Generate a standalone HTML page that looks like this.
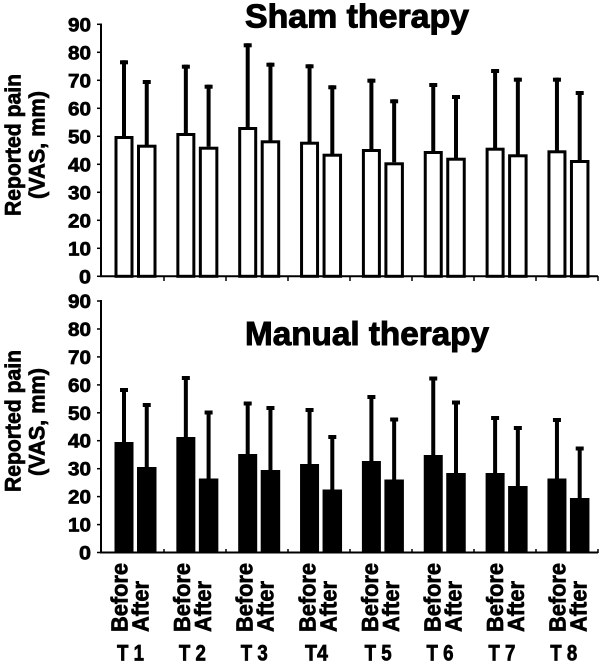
<!DOCTYPE html>
<html><head><meta charset="utf-8"><style>
html,body{margin:0;padding:0;background:#fff;}
svg{display:block;}
text{font-family:"Liberation Sans",Arial,sans-serif;font-weight:bold;fill:#000;stroke:#000;stroke-width:0.7px;}
.ttl{stroke-width:1px;}
</style></head><body>
<svg width="600" height="664" viewBox="0 0 600 664" xmlns="http://www.w3.org/2000/svg">
<!-- Titles -->
<text class="ttl" x="245" y="27.5" font-size="33.5" textLength="224" lengthAdjust="spacingAndGlyphs">Sham therapy</text>
<text class="ttl" x="245" y="345" font-size="33.5" textLength="244" lengthAdjust="spacingAndGlyphs">Manual therapy</text>

<!-- Y axis labels -->
<text transform="translate(20.5,145) rotate(-90)" text-anchor="middle" font-size="22.5" textLength="142" lengthAdjust="spacingAndGlyphs">Reported pain</text>
<text transform="translate(44.5,145) rotate(-90)" text-anchor="middle" font-size="22.5" textLength="108" lengthAdjust="spacingAndGlyphs">(VAS, mm)</text>
<text transform="translate(20.5,421) rotate(-90)" text-anchor="middle" font-size="22.5" textLength="142" lengthAdjust="spacingAndGlyphs">Reported pain</text>
<text transform="translate(44.5,422) rotate(-90)" text-anchor="middle" font-size="22.5" textLength="108" lengthAdjust="spacingAndGlyphs">(VAS, mm)</text>

<!-- Top y tick labels -->
<g font-size="19.5" text-anchor="end">
<text x="91" y="283.3" textLength="12" lengthAdjust="spacingAndGlyphs">0</text>
<text x="91" y="255.3" textLength="23" lengthAdjust="spacingAndGlyphs">10</text>
<text x="91" y="227.3" textLength="23" lengthAdjust="spacingAndGlyphs">20</text>
<text x="91" y="199.3" textLength="23" lengthAdjust="spacingAndGlyphs">30</text>
<text x="91" y="171.3" textLength="23" lengthAdjust="spacingAndGlyphs">40</text>
<text x="91" y="143.3" textLength="23" lengthAdjust="spacingAndGlyphs">50</text>
<text x="91" y="115.3" textLength="23" lengthAdjust="spacingAndGlyphs">60</text>
<text x="91" y="87.3" textLength="23" lengthAdjust="spacingAndGlyphs">70</text>
<text x="91" y="59.3" textLength="23" lengthAdjust="spacingAndGlyphs">80</text>
<text x="91" y="31.3" textLength="23" lengthAdjust="spacingAndGlyphs">90</text>
</g>
<!-- Bottom y tick labels -->
<g font-size="19.5" text-anchor="end">
<text x="91" y="559.5" textLength="12" lengthAdjust="spacingAndGlyphs">0</text>
<text x="91" y="531.6" textLength="23" lengthAdjust="spacingAndGlyphs">10</text>
<text x="91" y="503.6" textLength="23" lengthAdjust="spacingAndGlyphs">20</text>
<text x="91" y="475.7" textLength="23" lengthAdjust="spacingAndGlyphs">30</text>
<text x="91" y="447.7" textLength="23" lengthAdjust="spacingAndGlyphs">40</text>
<text x="91" y="419.8" textLength="23" lengthAdjust="spacingAndGlyphs">50</text>
<text x="91" y="391.9" textLength="23" lengthAdjust="spacingAndGlyphs">60</text>
<text x="91" y="363.9" textLength="23" lengthAdjust="spacingAndGlyphs">70</text>
<text x="91" y="336" textLength="23" lengthAdjust="spacingAndGlyphs">80</text>
<text x="91" y="308" textLength="23" lengthAdjust="spacingAndGlyphs">90</text>
</g>

<!-- Axes -->
<g stroke="#000" stroke-width="2" fill="none">
<line x1="101" y1="23.5" x2="101" y2="277"/>
<line x1="100" y1="276.3" x2="598" y2="276.3"/>
<line x1="101" y1="300" x2="101" y2="553.5"/>
<line x1="100" y1="552.5" x2="598" y2="552.5"/>
</g>
<g stroke="#000" stroke-width="1.5">
<line x1="97" y1="276.3" x2="101" y2="276.3"/><line x1="97" y1="248.3" x2="101" y2="248.3"/>
<line x1="97" y1="220.3" x2="101" y2="220.3"/><line x1="97" y1="192.3" x2="101" y2="192.3"/>
<line x1="97" y1="164.3" x2="101" y2="164.3"/><line x1="97" y1="136.3" x2="101" y2="136.3"/>
<line x1="97" y1="108.3" x2="101" y2="108.3"/><line x1="97" y1="80.3" x2="101" y2="80.3"/>
<line x1="97" y1="52.3" x2="101" y2="52.3"/><line x1="97" y1="24.3" x2="101" y2="24.3"/>
<line x1="97" y1="552.5" x2="101" y2="552.5"/><line x1="97" y1="524.6" x2="101" y2="524.6"/>
<line x1="97" y1="496.6" x2="101" y2="496.6"/><line x1="97" y1="468.7" x2="101" y2="468.7"/>
<line x1="97" y1="440.7" x2="101" y2="440.7"/><line x1="97" y1="412.8" x2="101" y2="412.8"/>
<line x1="97" y1="384.9" x2="101" y2="384.9"/><line x1="97" y1="356.9" x2="101" y2="356.9"/>
<line x1="97" y1="329" x2="101" y2="329"/><line x1="97" y1="301" x2="101" y2="301"/>
<line x1="164" y1="276" x2="164" y2="281"/><line x1="226" y1="276" x2="226" y2="281"/>
<line x1="288" y1="276" x2="288" y2="281"/><line x1="350" y1="276" x2="350" y2="281"/>
<line x1="412" y1="276" x2="412" y2="281"/><line x1="474" y1="276" x2="474" y2="281"/>
<line x1="536" y1="276" x2="536" y2="281"/><line x1="598" y1="276" x2="598" y2="281"/>
<line x1="164" y1="549" x2="164" y2="553"/><line x1="226" y1="549" x2="226" y2="553"/>
<line x1="288" y1="549" x2="288" y2="553"/><line x1="350" y1="549" x2="350" y2="553"/>
<line x1="412" y1="549" x2="412" y2="553"/><line x1="474" y1="549" x2="474" y2="553"/>
<line x1="536" y1="549" x2="536" y2="553"/><line x1="598" y1="549" x2="598" y2="553"/>
</g>

<!-- Top error bars -->
<g fill="#000">
<rect x="122" y="60.3" width="4" height="76"/><rect x="120" y="60.3" width="8" height="4"/>
<rect x="144.75" y="80" width="4" height="65"/><rect x="142.75" y="80" width="8" height="4"/>
<rect x="183.85" y="64.7" width="4" height="69"/><rect x="181.85" y="64.7" width="8" height="4"/>
<rect x="206.6" y="84.7" width="4" height="62"/><rect x="204.6" y="84.7" width="8" height="4"/>
<rect x="245.7" y="43.3" width="4" height="84"/><rect x="243.7" y="43.3" width="8" height="4"/>
<rect x="268.45" y="62.7" width="4" height="78"/><rect x="266.45" y="62.7" width="8" height="4"/>
<rect x="307.55" y="64.3" width="4" height="78"/><rect x="305.55" y="64.3" width="8" height="4"/>
<rect x="330.3" y="85.3" width="4" height="69"/><rect x="328.3" y="85.3" width="8" height="4"/>
<rect x="369.4" y="78.7" width="4" height="71"/><rect x="367.4" y="78.7" width="8" height="4"/>
<rect x="392.15" y="99.3" width="4" height="63"/><rect x="390.15" y="99.3" width="8" height="4"/>
<rect x="431.25" y="83" width="4" height="68"/><rect x="429.25" y="83" width="8" height="4"/>
<rect x="454" y="95" width="4" height="63"/><rect x="452" y="95" width="8" height="4"/>
<rect x="493.1" y="69" width="4" height="79"/><rect x="491.1" y="69" width="8" height="4"/>
<rect x="515.85" y="77.7" width="4" height="77"/><rect x="513.85" y="77.7" width="8" height="4"/>
<rect x="554.95" y="77.7" width="4" height="73"/><rect x="552.95" y="77.7" width="8" height="4"/>
<rect x="577.7" y="91" width="4" height="69"/><rect x="575.7" y="91" width="8" height="4"/>
</g>
<!-- Top bars (white) -->
<g fill="#fff" stroke="#000" stroke-width="3">
<rect x="116" y="137.5" width="16" height="138.8"/>
<rect x="138.5" y="146.2" width="16.5" height="130.1"/>
<rect x="177.85" y="134.5" width="16" height="141.8"/>
<rect x="200.35" y="148.2" width="16.5" height="128.1"/>
<rect x="239.7" y="128.5" width="16" height="147.8"/>
<rect x="262.2" y="141.8" width="16.5" height="134.5"/>
<rect x="301.55" y="143.2" width="16" height="133.1"/>
<rect x="324.05" y="155.2" width="16.5" height="121.1"/>
<rect x="363.4" y="150.5" width="16" height="125.8"/>
<rect x="385.9" y="163.8" width="16.5" height="112.5"/>
<rect x="425.25" y="152.5" width="16" height="123.8"/>
<rect x="447.75" y="159.2" width="16.5" height="117.1"/>
<rect x="487.1" y="149.2" width="16" height="127.1"/>
<rect x="509.6" y="155.8" width="16.5" height="120.5"/>
<rect x="548.95" y="151.8" width="16" height="124.5"/>
<rect x="571.45" y="161.5" width="16.5" height="114.8"/>
</g>

<!-- Bottom error bars + bars (black) -->
<g fill="#000">
<rect x="122" y="388" width="4" height="56"/><rect x="120" y="388" width="8" height="4"/>
<rect x="144.75" y="403" width="4" height="66"/><rect x="142.75" y="403" width="8" height="4"/>
<rect x="183.85" y="376" width="4" height="63"/><rect x="181.85" y="376" width="8" height="4"/>
<rect x="206.6" y="410.5" width="4" height="70"/><rect x="204.6" y="410.5" width="8" height="4"/>
<rect x="245.7" y="401.5" width="4" height="54"/><rect x="243.7" y="401.5" width="8" height="4"/>
<rect x="268.45" y="406" width="4" height="66"/><rect x="266.45" y="406" width="8" height="4"/>
<rect x="307.55" y="408" width="4" height="58"/><rect x="305.55" y="408" width="8" height="4"/>
<rect x="330.3" y="435" width="4" height="56"/><rect x="328.3" y="435" width="8" height="4"/>
<rect x="369.4" y="395" width="4" height="68"/><rect x="367.4" y="395" width="8" height="4"/>
<rect x="392.15" y="417.5" width="4" height="64"/><rect x="390.15" y="417.5" width="8" height="4"/>
<rect x="431.25" y="376.5" width="4" height="80"/><rect x="429.25" y="376.5" width="8" height="4"/>
<rect x="454" y="400.5" width="4" height="74"/><rect x="452" y="400.5" width="8" height="4"/>
<rect x="493.1" y="416" width="4" height="59"/><rect x="491.1" y="416" width="8" height="4"/>
<rect x="515.85" y="426" width="4" height="62"/><rect x="513.85" y="426" width="8" height="4"/>
<rect x="554.95" y="418" width="4" height="62"/><rect x="552.95" y="418" width="8" height="4"/>
<rect x="577.7" y="446.5" width="4" height="53"/><rect x="575.7" y="446.5" width="8" height="4"/>

<rect x="114.5" y="442" width="19" height="110.5"/>
<rect x="137" y="467" width="19.5" height="85.5"/>
<rect x="176.35" y="437" width="19" height="115.5"/>
<rect x="198.85" y="478.5" width="19.5" height="74"/>
<rect x="238.2" y="454" width="19" height="98.5"/>
<rect x="260.7" y="470" width="19.5" height="82.5"/>
<rect x="300.05" y="464" width="19" height="88.5"/>
<rect x="322.55" y="489.5" width="19.5" height="63"/>
<rect x="361.9" y="461" width="19" height="91.5"/>
<rect x="384.4" y="479.5" width="19.5" height="73"/>
<rect x="423.75" y="455" width="19" height="97.5"/>
<rect x="446.25" y="473" width="19.5" height="79.5"/>
<rect x="485.6" y="473" width="19" height="79.5"/>
<rect x="508.1" y="486" width="19.5" height="66.5"/>
<rect x="547.45" y="478.5" width="19" height="74"/>
<rect x="569.95" y="498" width="19.5" height="54.5"/>
</g>

<!-- X labels Before / After -->
<g font-size="23">
<text transform="translate(127.5,632) rotate(-90)" textLength="69" lengthAdjust="spacingAndGlyphs">Before</text>
<text transform="translate(148.5,632) rotate(-90)" textLength="51" lengthAdjust="spacingAndGlyphs">After</text>
<text transform="translate(190.1,632) rotate(-90)" textLength="69" lengthAdjust="spacingAndGlyphs">Before</text>
<text transform="translate(211.1,632) rotate(-90)" textLength="51" lengthAdjust="spacingAndGlyphs">After</text>
<text transform="translate(252.7,632) rotate(-90)" textLength="69" lengthAdjust="spacingAndGlyphs">Before</text>
<text transform="translate(273.7,632) rotate(-90)" textLength="51" lengthAdjust="spacingAndGlyphs">After</text>
<text transform="translate(315.3,632) rotate(-90)" textLength="69" lengthAdjust="spacingAndGlyphs">Before</text>
<text transform="translate(336.3,632) rotate(-90)" textLength="51" lengthAdjust="spacingAndGlyphs">After</text>
<text transform="translate(377.9,632) rotate(-90)" textLength="69" lengthAdjust="spacingAndGlyphs">Before</text>
<text transform="translate(398.9,632) rotate(-90)" textLength="51" lengthAdjust="spacingAndGlyphs">After</text>
<text transform="translate(440.5,632) rotate(-90)" textLength="69" lengthAdjust="spacingAndGlyphs">Before</text>
<text transform="translate(461.5,632) rotate(-90)" textLength="51" lengthAdjust="spacingAndGlyphs">After</text>
<text transform="translate(503.1,632) rotate(-90)" textLength="69" lengthAdjust="spacingAndGlyphs">Before</text>
<text transform="translate(524.1,632) rotate(-90)" textLength="51" lengthAdjust="spacingAndGlyphs">After</text>
<text transform="translate(565.7,632) rotate(-90)" textLength="69" lengthAdjust="spacingAndGlyphs">Before</text>
<text transform="translate(586.7,632) rotate(-90)" textLength="51" lengthAdjust="spacingAndGlyphs">After</text>
</g>
<!-- T labels -->
<g font-size="22.5">
<text x="117" y="660.5" textLength="27" lengthAdjust="spacingAndGlyphs">T 1</text>
<text x="178.9" y="660.5" textLength="27" lengthAdjust="spacingAndGlyphs">T 2</text>
<text x="240.8" y="660.5" textLength="27" lengthAdjust="spacingAndGlyphs">T 3</text>
<text x="305" y="660.5" textLength="23" lengthAdjust="spacingAndGlyphs">T4</text>
<text x="364.6" y="660.5" textLength="27" lengthAdjust="spacingAndGlyphs">T 5</text>
<text x="426.5" y="660.5" textLength="27" lengthAdjust="spacingAndGlyphs">T 6</text>
<text x="488.4" y="660.5" textLength="27" lengthAdjust="spacingAndGlyphs">T 7</text>
<text x="550.3" y="660.5" textLength="27" lengthAdjust="spacingAndGlyphs">T 8</text>
</g>
</svg>
</body></html>
